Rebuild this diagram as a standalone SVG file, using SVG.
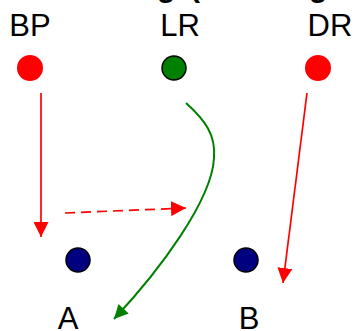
<svg xmlns="http://www.w3.org/2000/svg" width="355" height="331" viewBox="0 0 355 331">
<style>
.lbl{font-family:"Liberation Sans",Arial,sans-serif;font-size:31px;fill:#000;text-anchor:middle}
.top{font-family:"Liberation Sans",Arial,sans-serif;font-size:30px;font-weight:bold;fill:#000}
.red{fill:#ff0000}
.grn{fill:#008000;stroke:#000;stroke-width:1.5}
.nav{fill:#000080;stroke:#000;stroke-width:1.5}
.rl{stroke:#ff0000;stroke-width:1.7;fill:none}
.gl{stroke:#008000;stroke-width:2;fill:none}
</style>
<defs>
<marker id="ar" viewBox="0 0 10 10" refX="10" refY="5" markerUnits="userSpaceOnUse" markerWidth="15" markerHeight="15" orient="auto"><path d="M0,0 L10,5 L0,10 z" fill="#ff0000"/></marker>
<marker id="ag" viewBox="0 0 10 10" refX="10" refY="5" markerUnits="userSpaceOnUse" markerWidth="15" markerHeight="14" orient="auto"><path d="M0,0 L10,5 L0,10 z" fill="#008000"/></marker>
</defs>
<rect width="355" height="331" fill="#fff"/>
<text class="top" x="157" y="-3">g</text>
<text class="top" x="190" y="-3">(</text>
<text class="top" x="309" y="-3">g</text>
<g id="BP"><circle class="red" cx="30" cy="68" r="13"/><text class="lbl" x="30" y="36">BP</text></g>
<g id="LR"><circle class="grn" cx="174" cy="68" r="12"/><text class="lbl" x="180" y="36">LR</text></g>
<g id="DR"><circle class="red" cx="318" cy="68" r="13"/><text class="lbl" x="330" y="36">DR</text></g>
<g id="A"><circle class="nav" cx="78" cy="260" r="12"/><text class="lbl" x="68" y="329">A</text></g>
<g id="B"><circle class="nav" cx="246" cy="260" r="12"/><text class="lbl" x="249" y="329">B</text></g>
<g id="connectors">
<path class="rl" d="M41,93 L41,237" marker-end="url(#ar)"/>
<path class="rl" d="M65,213 L186,208" stroke-dasharray="10,6" marker-end="url(#ar)"/>
<path class="rl" d="M307,93 L283,283" marker-end="url(#ar)"/>
<path class="gl" d="M186,103 C205,120 216,135 214,158 C212,200 160,270 114,319" marker-end="url(#ag)"/>
</g>
</svg>
